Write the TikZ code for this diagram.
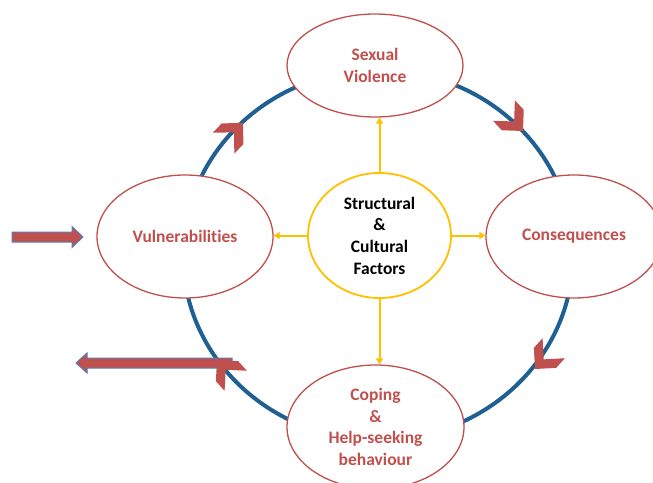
\documentclass[tikz,border=0pt]{standalone}
\usepackage{fontspec}
\setmainfont[Ligatures=NoCommon]{Carlito}
\usetikzlibrary{shapes.geometric,arrows.meta}
\definecolor{ppred}{RGB}{192,80,77}
\definecolor{ppblue}{RGB}{31,95,145}
\definecolor{ppgold}{RGB}{255,192,0}
\definecolor{ppedge}{RGB}{79,129,189}
\begin{document}
\begin{tikzpicture}[x=1pt,y=1pt,
  outerell/.style={ellipse, draw=ppred, line width=1.3pt, fill=white, inner sep=0pt,
    text=ppred, font=\fontsize{17.5}{21.7}\selectfont\bfseries, align=center},
  innerell/.style={ellipse, draw=ppgold, line width=1.8pt, fill=white, inner sep=0pt,
    text=black, font=\fontsize{17.5}{21.7}\selectfont\bfseries, align=center},
  yarrow/.style={draw=ppgold, line width=2pt, -{Triangle[length=6pt,width=7pt]}},
  blockarrow/.style={fill=ppred, draw=ppedge, line width=1pt, line join=miter},
  chevron/.pic={\fill[ppred] (0,0) -- (-15,15) -- (-28,15) -- (-13,0) -- (-28,-15) -- (-15,-15) -- cycle;}
]
\clip (0,0) rectangle (653,-482);
\fill[white] (0,0) rectangle (653,-482);
% cycle
\draw[ppblue, line width=4pt] (378,-255) ellipse [x radius=195pt, y radius=185pt];
% ellipses
\node[outerell, minimum width=176pt, minimum height=103pt] (sv) at (375,-65.5) {Sexual\\Violence};
\node[outerell, minimum width=176pt, minimum height=123pt] (cons) at (574,-236.5) {Consequences};
\node[outerell, minimum width=176pt, minimum height=123pt] (vul) at (185,-236.5) {Vulnerabilities};
\node[outerell, minimum width=177pt, minimum height=124pt] (cop) at (375.5,-427) {Coping\\\&\\Help-seeking\\behaviour};
\node[innerell, minimum width=143pt, minimum height=125pt] (ce) at (379.5,-235.5) {Structural\\\&\\Cultural\\Factors};
% yellow arrows
\draw[yarrow] (ce.north) -- (ce.north |- sv.south);
\draw[yarrow] (ce.south) -- (ce.south |- cop.north);
\draw[yarrow] (ce.west) -- (ce.west -| vul.east);
\draw[yarrow] (ce.east) -- (ce.east -| cons.west);
% block arrows
\draw[blockarrow] (12,-232) -- (72,-232) -- (72,-226.5) -- (83,-237) -- (72,-247.5) -- (72,-242) -- (12,-242) -- cycle;
\draw[blockarrow] (232,-358) -- (87,-358) -- (87,-353) -- (76,-363) -- (87,-373) -- (87,-368) -- (232,-368) -- cycle;
% chevrons
\pic[rotate=46] at (243,-123) {chevron};
\pic[rotate=-47] at (523,-131) {chevron};
\pic[rotate=228] at (535,-369) {chevron};
\pic[rotate=132] at (217,-360) {chevron};
\end{tikzpicture}
\end{document}
